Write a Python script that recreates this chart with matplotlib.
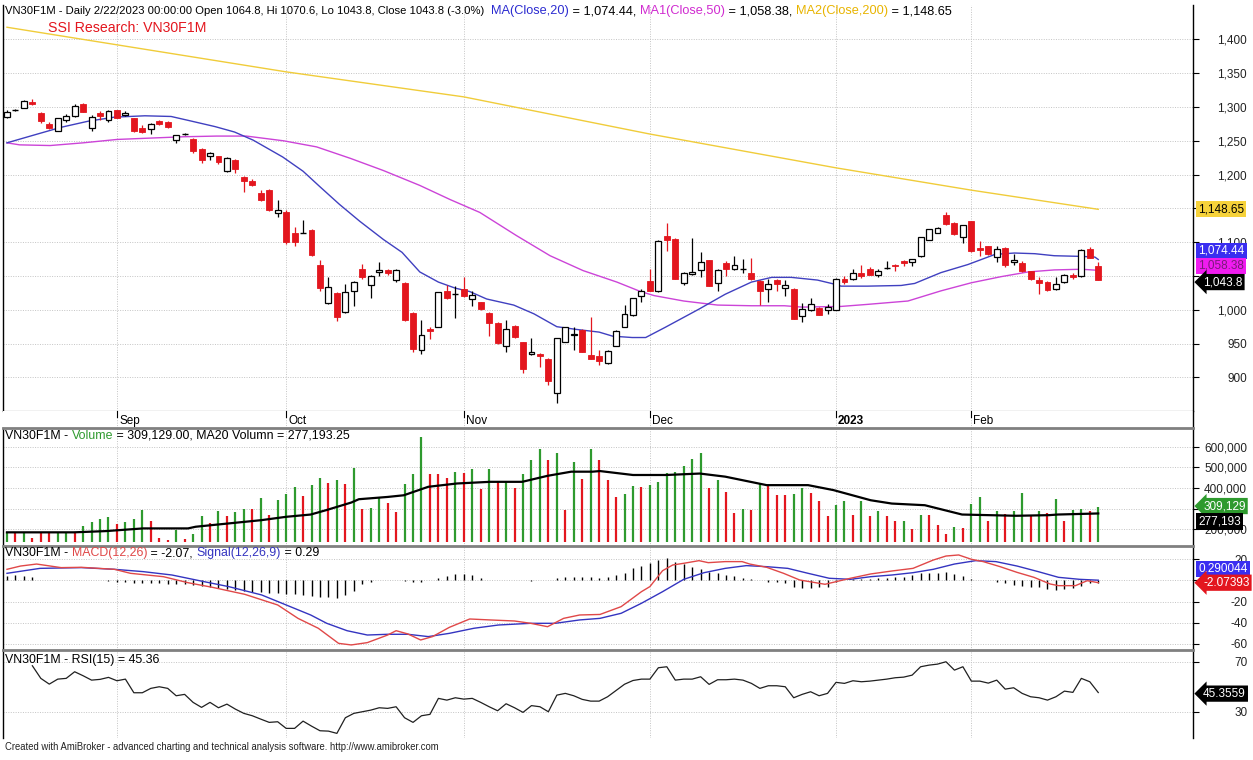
import matplotlib
matplotlib.use("Agg")
import matplotlib.pyplot as plt
from matplotlib.lines import Line2D

plt.rcParams['font.family'] = ['Liberation Sans', 'DejaVu Sans']

W, H = 1253, 760

# ---------------- data ----------------
opens = [1285, 1295, 1299, 1307, 1291, 1275, 1265, 1281, 1286, 1305,
         1269, 1291, 1281, 1295, 1288, 1283, 1269, 1268, 1280, 1278,
         1251, 1260, 1253, 1238, 1227, 1227, 1205, 1222, 1197, 1190,
         1173, 1177, 1143, 1145, 1114, 1114, 1118, 1066, 1010, 1025,
         997, 1028, 1061, 1037, 1056, 1059, 1044, 1040, 996, 941,
         972, 975, 1028, 1024, 1031, 1016, 1011, 996, 981, 947,
         976, 952, 935, 935, 927, 877, 953, 962, 970, 933,
         932, 921, 947, 975, 992, 1020, 1042, 1028, 1109, 1105,
         1040, 1053, 1059, 1073, 1040, 1069, 1061, 1060, 1054, 1043,
         1031, 1044, 1032, 1031, 991, 999, 1003, 1000, 1000, 1046,
         1045, 1055, 1060, 1051, 1062, 1067, 1072, 1071, 1079, 1104,
         1114, 1140, 1129, 1108, 1131, 1092, 1094, 1078, 1092, 1071,
         1069, 1057, 1044, 1041, 1031, 1041, 1051, 1050, 1090, 1064.8]
highs = [1295, 1297, 1310, 1312, 1292, 1278, 1284, 1289, 1304, 1306,
         1288, 1294, 1295, 1296, 1294, 1284, 1273, 1276, 1281, 1279,
         1259, 1262, 1254, 1239, 1234, 1228, 1226, 1223, 1198, 1193,
         1177, 1178, 1163, 1147, 1122, 1133, 1119, 1073, 1049, 1026,
         1038, 1042, 1068, 1051, 1070, 1060, 1060, 1041, 997, 985,
         975, 1027, 1037, 1035, 1048, 1028, 1012, 997, 982, 985,
         978, 953, 959, 936, 928, 959, 975, 975, 971, 990,
         940, 940, 970, 1007, 1018, 1031, 1060, 1103, 1128, 1106,
         1056, 1106, 1085, 1074, 1060, 1072, 1079, 1075, 1076, 1044,
         1045, 1046, 1044, 1032, 1010, 1018, 1004, 1008, 1047, 1050,
         1061, 1067, 1063, 1060, 1072, 1068, 1074, 1075, 1108, 1120,
         1122, 1145, 1130, 1126, 1132, 1102, 1095, 1094, 1093, 1083,
         1072, 1058, 1048, 1042, 1049, 1053, 1054, 1090, 1093, 1070.6]
lows = [1284, 1294, 1298, 1303, 1276, 1268, 1264, 1278, 1285, 1292,
        1264, 1281, 1278, 1283, 1286, 1263, 1262, 1260, 1274, 1269,
        1247, 1259, 1232, 1217, 1221, 1215, 1204, 1203, 1174, 1183,
        1161, 1146, 1137, 1098, 1095, 1114, 1080, 1028, 1008, 983,
        996, 1006, 1045, 1018, 1050, 1052, 1041, 984, 938, 935,
        957, 974, 1016, 988, 1019, 1005, 1000, 961, 950, 937,
        959, 907, 933, 915, 889, 862, 952, 941, 938, 927,
        918, 920, 946, 974, 991, 1012, 1028, 1027, 1087, 1045,
        1036, 1052, 1048, 1035, 1028, 1050, 1059, 1054, 1044, 1007,
        1011, 1028, 1021, 986, 982, 998, 992, 994, 999, 1038,
        1044, 1047, 1051, 1049, 1061, 1057, 1065, 1065, 1078, 1103,
        1113, 1125, 1111, 1099, 1085, 1080, 1081, 1070, 1064, 1067,
        1056, 1044, 1024, 1028, 1029, 1040, 1045, 1049, 1076, 1043.8]
closes = [1293, 1295, 1309, 1304, 1279, 1269, 1283, 1286, 1302, 1293,
          1285, 1286, 1294, 1284, 1291, 1264, 1263, 1275, 1275, 1270,
          1258, 1260, 1235, 1222, 1232, 1219, 1225, 1209, 1190, 1184,
          1163, 1147, 1148, 1101, 1101, 1114, 1081, 1032, 1033, 990,
          1026, 1041, 1049, 1050, 1059, 1054, 1059, 985, 942, 963,
          969, 1026, 1017, 1024, 1020, 1022, 1001, 981, 951, 971,
          960, 913, 938, 932, 895, 958, 974, 964, 938, 927,
          925, 939, 969, 994, 1017, 1028, 1028, 1102, 1104, 1046,
          1054, 1056, 1071, 1035, 1059, 1060, 1066, 1060, 1045, 1028,
          1038, 1038, 1036, 987, 1001, 1008, 993, 1004, 1046, 1041,
          1054, 1050, 1052, 1057, 1062, 1065, 1069, 1075, 1107, 1119,
          1121, 1127, 1112, 1126, 1087, 1088, 1082, 1090, 1066, 1073,
          1057, 1045, 1039, 1030, 1038, 1052, 1049, 1088, 1077, 1043.8]

ma20_idx = [0, 3.6, 6.4, 9.6, 12.7, 16.3, 19.4, 21.5, 24.6, 26.9, 29.1, 32.6, 35, 37,
            39.3, 41.7, 44.5, 46.7, 48.8, 51, 53, 54.7, 56.7, 59.9, 62.3, 65, 67.3,
            70, 71.6, 73.9, 75.5, 77.8, 81.8, 84.9, 88, 90.4, 92.7, 95.8, 97.8, 98.6,
            101.7, 105.7, 107.3, 110.4, 113.6, 116.8, 119.1, 121.5, 123.8, 127, 128.6, 129]
ma20_val = [1247, 1260, 1270, 1279, 1285, 1287, 1286, 1280, 1271, 1263, 1251, 1226, 1205, 1182,
            1156, 1131, 1104, 1085, 1056, 1041, 1032, 1027, 1016, 1007, 994, 975, 971,
            967, 961, 959, 959, 974, 1001, 1023, 1041, 1048, 1048, 1044, 1038, 1035,
            1035, 1036, 1039, 1055, 1067, 1082, 1084, 1083, 1080, 1079, 1078, 1074.44]
ma50_idx = [0, 1.5, 5.1, 9, 13, 16.9, 20.9, 24.8, 28.3, 32.7, 36.6, 40.6, 44.5, 48.8,
            52.4, 55.9, 60.2, 64.2, 68.1, 72.1, 74.9, 76.5, 80, 84, 88, 91.9, 94,
            98.6, 101.7, 106.5, 110.4, 114, 117.5, 120.7, 123.8, 127, 129]
ma50_val = [1247, 1244, 1243, 1247, 1252, 1254, 1256, 1257, 1257, 1250, 1241, 1224, 1206, 1184,
            1163, 1144, 1110, 1080, 1058, 1041, 1027, 1021, 1013, 1007, 1006, 1006, 1004,
            1005, 1008, 1013, 1028, 1040, 1049, 1056, 1059, 1060, 1058.38]
ma200_idx = [0, 13, 33, 54, 76, 98, 114, 129]
ma200_val = [1418, 1392, 1352, 1315, 1260, 1210, 1177, 1148.65]

volume = [186, 186, 186, 160, 181, 181, 189, 189, 189, 218,
          234, 250, 261, 226, 234, 250, 294, 240, 157, 149,
          197, 153, 176, 266, 229, 289, 266, 282, 301, 301,
          353, 272, 341, 369, 406, 362, 414, 447, 422, 437,
          418, 498, 301, 304, 357, 330, 282, 418, 466, 648,
          466, 466, 450, 476, 471, 492, 395, 492, 430, 434,
          401, 466, 535, 587, 535, 567, 294, 527, 443, 588,
          535, 438, 357, 373, 410, 406, 414, 430, 471, 476,
          506, 538, 567, 401, 438, 381, 280, 297, 296, 418,
          414, 366, 366, 373, 401, 378, 336, 264, 320, 336,
          269, 336, 266, 291, 264, 243, 243, 201, 272, 272,
          220, 180, 212, 207, 323, 357, 240, 288, 275, 291,
          376, 266, 291, 277, 349, 243, 293, 301, 288, 309.129]  # thousands
vol_color = (list("GRGRRRGGRG") + list("GGGRGGGRRR") + list("GRGGRGRGGR") +
             list("GRGGGRGGRG") + list("RGRGGRRGGG") + list("RRRGRGRGRG") +
             list("RGGGRGRGRG") + list("RRRGGRGGGG") + list("GGGRGRRGRG") +
             list("RRRGGRRRGG") + list("RGRGRRGRGR") + list("RRGRGGRGRG") +
             list("GRGRGRGGRG"))
vol_ma_idx = [0, 7.9, 11.7, 16.1, 21.4, 22.3, 26.2, 30.1, 33, 35.9, 37.8, 40.7, 41.6, 45,
              46.9, 49.8, 53.2, 57.1, 60.9, 63.9, 66.7, 69.2, 70.1, 74, 77.9, 81.9, 84.9,
              89.8, 94.7, 97.7, 102.1, 104.6, 108.5, 112.9, 119.3, 123.2, 124.2, 129]
vol_ma_val = [186, 186, 192, 205, 205, 213, 229, 245, 261, 272, 294, 330, 346, 357,
              365, 406, 422, 430, 430, 459, 479, 479, 482, 463, 463, 470, 455,
              414, 414, 390, 341, 325, 317, 272, 266, 269, 272, 277.193]

macd_idx = [0, 1.6, 3.5, 6.4, 8.8, 12.7, 14.6, 18.5, 21.4, 24.3, 28.1, 32, 34.4, 36.8,
            39.2, 40.7, 42.6, 45, 46, 47.4, 48.9, 50.3, 52.3, 54.7, 57.1, 60, 61.9,
            63.9, 65.8, 67.7, 70.1, 72.6, 75, 76, 77.5, 78.7, 80, 81.8, 82.9, 84.9,
            86.9, 87.8, 89.8, 91.8, 93.7, 96.7, 99.7, 102.1, 104.6, 107.1, 109.5, 111,
            112.5, 114, 115.4, 117.4, 119.4, 121.4, 123.3, 124.3, 126.3, 127.7, 129]
macd_val = [10.6, 13.7, 15.6, 12.2, 12.5, 10.6, 6.8, 3.6, -2.1, -6.5, -13.1, -23.2, -35.9, -45.3,
            -59.6, -61.1, -58.9, -51.7, -47.6, -50.7, -56.4, -53.2, -44.4, -36.5, -37.4, -38.4, -40.6,
            -43.8, -35.9, -32.7, -32.2, -24.8, -10.6, -5.8, 9.3, 14.7, 16.3, 18.8, 16.9, 17.9,
            17.9, 15.6, 12.5, 6.8, 0.5, -3.6, 2.1, 6.2, 9.0, 11.5, 19.4, 23.2,
            24.2, 20.1, 17.9, 13.1, 7.7, 3.0, -3.3, -4.9, -4.9, -0.2, -2.07]
sig_idx = [0, 3.9, 8.8, 12.7, 16.1, 19.5, 23.3, 26.2, 30.1, 33, 35.9, 37.8, 40.2, 42.6,
           45, 47.4, 49.8, 52.3, 55.2, 58.1, 61.9, 64.8, 67.7, 70.1, 72.6, 75, 77.5,
           80, 82.4, 84.9, 87.4, 89.8, 92.3, 94.7, 97.2, 99.7, 102.1, 104.6, 107.1,
           109.5, 112, 114.5, 116.9, 119.4, 121.9, 124.3, 126.8, 129]
sig_val = [6.8, 11.5, 12.2, 10.6, 8.4, 5.2, -1.1, -5.8, -13.7, -23.2, -32.7, -40.6, -47.6, -51.7,
           -51.0, -51.0, -53.2, -50.1, -45.3, -42.2, -40.6, -40.6, -37.4, -35.9, -31.1, -21.6, -10.6,
           1.1, 7.4, 11.5, 14.1, 13.1, 11.5, 6.8, 2.1, 1.1, 3.6, 5.2, 7.4,
           10.6, 15.6, 18.8, 17.9, 13.7, 8.4, 3.0, 1.1, 0.29]
macd_hist = [4, 5, 4.5, 3, 0.8, 0.3, 0.3, 0.3, 0.3, 0.3,
             0.3, 0.3, -0.3, -1, -1.5, -2, -2, -2.5, -2.5, -3,
             -3, -3.5, -4, -5, -6, -7, -8, -9, -10, -10.5,
             -11, -11.5, -12, -12.5, -13, -14, -15, -15.5, -16, -17,
             -14, -10, -3, -1.5, 0.3, 0.5, 0.3, -0.5, -1.5, -1.5,
             0.5, 2, 4, 6, 6.5, 5, 2.5, 0.5, 0.5, 0.5,
             0.5, 0.3, -0.5, 0.3, 0.3, 2, 3, 3, 3, 3.5,
             2.5, 3.6, 5.2, 7.4, 11.5, 13.7, 16.3, 19.4, 21, 17.9,
             15.6, 13.1, 10.6, 8.4, 6.8, 5.2, 4.3, 2, 1.1, 0.5,
             -1.1, -1.1, -2, -6.5, -7.4, -7.4, -6.5, -5.8, -1, 0.3,
             1, 1, 1, 2, 2, 3, 3.6, 5.2, 6.8, 6.8,
             7.4, 7.7, 6.2, 4.3, 1, 0.5, 0.2, -1, -2, -4.3,
             -5.2, -5.8, -6.5, -8.4, -9, -8.4, -7.4, -5.2, -2, -2.36]

rsi_start = 3
rsi = [66.8, 56.7, 52.1, 56.1, 56.7, 62, 58.8, 55.3, 55.9, 57.5,
       54.8, 56.1, 45.2, 45.2, 48.7, 50, 48.7, 42.8, 43.9, 37.5,
       33.5, 37.5, 33.2, 36.1, 32.1, 28.7, 26.8, 24.1, 21.5, 22,
       16.7, 16.7, 22.5, 18.5, 14.8, 14.5, 12.7, 25.2, 28.7, 30,
       31.3, 33.2, 32.7, 34, 25.2, 21.5, 26.8, 27.9, 40.7, 39.3,
       41.2, 40.1, 40.7, 37.5, 34, 30.8, 36.4, 33.2, 29.5, 34.9,
       34, 30, 43.3, 44.7, 42.8, 39.9, 38.5, 38.5, 42, 47,
       52, 55, 56.1, 56.1, 65.2, 66, 55.3, 56.1, 56.1, 58,
       51.9, 55.6, 55.6, 56.1, 55.3, 52.7, 48.7, 50.8, 50.8, 50,
       41.2, 43.9, 46, 42.8, 44.7, 53.5, 52.7, 54.8, 54, 54.5,
       55.3, 56.1, 57.2, 57.7, 59.3, 66, 67.3, 68.1, 70, 63.3,
       66, 54.5, 54.5, 52.9, 55.3, 48.1, 49.2, 44.7, 42, 41.2,
       39.3, 42, 46.5, 45.5, 56.7, 54, 45.36]

month_idx = [13, 33, 54, 76, 98, 114]
month_lbl = ['Sep', 'Oct', 'Nov', 'Dec', '2023', 'Feb']

price_ticks = [900, 950, 1000, 1050, 1100, 1150, 1200, 1250, 1300, 1350, 1400]
price_hidden = [1050, 1150]          # labels covered by value boxes in the reference
vol_ticks = [200, 300, 400, 500, 600]
vol_hidden = [300]
macd_ticks = [20, 0, -20, -40, -60]
macd_hidden = [0]
rsi_ticks = [70, 30]

# ---------------- styling ----------------
C_UP_VOL = '#2e9a2e'
C_RED = '#e3161e'
C_MA20 = '#4040c0'
C_MA50 = '#cc44d8'
C_MA200 = '#f0cc3a'
GRID = '#c4c4c4'
XL = (-0.47, 140.2)
LAB_FS = 8.5

fig = plt.figure(figsize=(W / 100, H / 100), dpi=100)
fig.patch.set_facecolor('white')


def px_axes(x0, y0, x1, y1):
    return fig.add_axes([x0 / W, 1 - y1 / H, (x1 - x0) / W, (y1 - y0) / H])


def style(ax, ylim, ticks, fmt, hidden=()):
    ax.set_xlim(*XL)
    ax.set_ylim(*ylim)
    for s in ('top', 'bottom'):
        ax.spines[s].set_visible(False)
    ax.spines['left'].set_linewidth(1.0)
    ax.spines['right'].set_linewidth(1.0)
    ax.set_xticks([])
    ax.yaxis.tick_right()
    ax.set_yticks(ticks)
    ax.set_yticklabels(['' if v in hidden else fmt(v) for v in ticks])
    ax.tick_params(axis='y', direction='out', length=4, width=0.8,
                   labelsize=LAB_FS, pad=35, labelcolor='#222222')
    for lab in ax.get_yticklabels():
        lab.set_horizontalalignment('right')
    for v in ticks:
        ax.axhline(v, color=GRID, lw=0.7, ls=(0, (1, 1.5)), zorder=0)
    for m in month_idx:
        ax.axvline(m, color=GRID, lw=0.7, ls=(0, (1, 1.5)), zorder=0)


def value_box(ax, y, s, fc, tc, arrow=False):
    x = 1.0044 if not arrow else 1.0085
    bs = 'larrow,pad=0.18' if arrow else 'square,pad=0.18'
    ax.text(x, y, s, transform=ax.get_yaxis_transform(), ha='left', va='center',
            fontsize=LAB_FS, color=tc, zorder=10, clip_on=False,
            bbox=dict(boxstyle=bs, fc=fc, ec='none'))


# ---------- price pane ----------
axp = px_axes(3, 5, 1193, 411)
style(axp, (850.3, 1450.9), price_ticks, lambda v: f"{v:,.0f}", price_hidden)
axp.spines['bottom'].set_visible(True)
axp.spines['bottom'].set_linewidth(0.8)

axp.plot(ma200_idx, ma200_val, color=C_MA200, lw=1.0, zorder=2)
axp.plot(ma50_idx, ma50_val, color=C_MA50, lw=1.0, zorder=2)
axp.plot(ma20_idx, ma20_val, color=C_MA20, lw=1.0, zorder=2)

BW = 0.7
for i, (o, h, l, c) in enumerate(zip(opens, highs, lows, closes)):
    if c > o:
        axp.vlines(i, l, h, color='black', lw=0.9, zorder=3)
        axp.bar(i, c - o, bottom=o, width=BW, facecolor='white', edgecolor='black',
                linewidth=0.9, zorder=4)
    elif c < o:
        axp.vlines(i, l, h, color=C_RED, lw=0.9, zorder=3)
        axp.bar(i, o - c, bottom=c, width=BW, facecolor=C_RED, edgecolor=C_RED,
                linewidth=0.6, zorder=4)
    else:
        axp.vlines(i, l, h, color='black', lw=0.9, zorder=3)
        axp.hlines(c, i - BW / 2, i + BW / 2, color='black', lw=1.0, zorder=4)

value_box(axp, 1148.65, '1,148.65', '#f6d23a', 'black')
value_box(axp, 1087, '1,074.44', '#3a2ef0', 'white')
value_box(axp, 1065, '1,058.38', '#f01cf0', '#7a1a7a')
value_box(axp, 1041, '1,043.8', 'black', 'white', arrow=True)

# ---------- date strip ----------
axd = px_axes(3, 411, 1193, 428)
axd.set_xlim(*XL)
axd.set_ylim(0, 1)
axd.set_xticks([])
axd.set_yticks([])
for s in ('top', 'bottom', 'left'):
    axd.spines[s].set_visible(False)
axd.spines['right'].set_linewidth(1.0)
for m, lbl in zip(month_idx, month_lbl):
    axd.axvline(m, color=GRID, lw=0.7, ls=(0, (1, 1.5)), zorder=0)
    axd.plot([m, m], [1, 0.62], color='black', lw=0.8)
    axd.text(m + 0.25, 0.4, lbl, fontsize=LAB_FS, va='center', ha='left',
             fontweight='bold' if lbl == '2023' else 'normal')

# ---------- volume pane ----------
axv = px_axes(3, 428, 1193, 546)
style(axv, (120, 690), vol_ticks, lambda v: f"{v * 1000:,.0f}", vol_hidden)
vol_floor = 140
for i, (v, cc) in enumerate(zip(volume, vol_color)):
    axv.vlines(i, vol_floor, v, color=C_UP_VOL if cc == 'G' else C_RED, lw=1.6, zorder=3)
axv.plot(vol_ma_idx, vol_ma_val, color='black', lw=1.6, zorder=4)
value_box(axv, 313, '309,129', '#2e9a2e', 'white', arrow=True)
value_box(axv, 238, '277,193', 'black', 'white')

# ---------- MACD pane ----------
axm = px_axes(3, 546, 1193, 650)
style(axm, (-65.9, 32.7), macd_ticks, lambda v: f"{v:.0f}", macd_hidden)
axm.vlines(range(len(macd_hist)), 0, macd_hist, color='black', lw=1.0, zorder=2)
axm.plot(sig_idx, sig_val, color='#3434c0', lw=1.0, zorder=3)
axm.plot(macd_idx, macd_val, color='#e04848', lw=1.0, zorder=4)
value_box(axm, 10.6, '0.290044', '#3a2ef0', 'white')
value_box(axm, -2.1, '-2.07393', '#e3161e', 'white', arrow=True)

# ---------- RSI pane ----------
axr = px_axes(3, 650, 1193, 738)
style(axr, (9, 79.4), rsi_ticks, lambda v: f"{v:.0f}")
axr.plot(range(rsi_start, rsi_start + len(rsi)), rsi, color='#202020', lw=0.9, zorder=3)
value_box(axr, 44.5, '45.3559', 'black', 'white', arrow=True)

# ---------- separators ----------
for y in (428, 546, 650):
    fig.add_artist(Line2D([3 / W, 1193 / W], [1 - y / H, 1 - y / H], color='#808080', lw=2.0))

# ---------- titles ----------
renderer = fig.canvas.get_renderer()


def text_width(s, size):
    t = fig.text(0, 0, s + 'x', fontsize=size)
    t2 = fig.text(0, 0, 'x', fontsize=size)
    w = t.get_window_extent(renderer).width - t2.get_window_extent(renderer).width
    t.remove()
    t2.remove()
    return w


def rich(x_px, y_px, parts, size):
    prefix = ''
    for s, c in parts:
        off = text_width(prefix, size) if prefix else 0
        fig.text((x_px + off) / W, 1 - y_px / H, s, color=c, fontsize=size,
                 ha='left', va='center')
        prefix += s


rich(5, 11, [("VN30F1M - Daily 2/22/2023 00:00:00 Open 1064.8, Hi 1070.6, Lo 1043.8, "
              "Close 1043.8 (-3.0%)", 'black')], 8.1)
rich(491, 11, [("MA(Close,20)", '#2b2bd0'), (" = 1,074.44, ", 'black'),
               ("MA1(Close,50)", '#d02bd0'), (" = 1,058.38, ", 'black'),
               ("MA2(Close,200)", '#e8b400'), (" = 1,148.65", 'black')], 9.2)
fig.text(48 / W, 1 - 28 / H, "SSI Research: VN30F1M", color='#e3161e', fontsize=10.2,
         ha='left', va='center')
TFS = 8.9
rich(5, 436, [("VN30F1M - ", 'black'), ("Volume", '#2e9a2e'),
              (" = 309,129.00, MA20 Volumn = 277,193.25", 'black')], TFS)
rich(5, 553, [("VN30F1M - ", 'black'), ("MACD(12,26)", '#e04848'), (" = -2.07, ", 'black'),
              ("Signal(12,26,9)", '#3434c0'), (" = 0.29", 'black')], TFS)
rich(5, 660, [("VN30F1M - RSI(15) = 45.36", 'black')], TFS)
fig.text(5 / W, 1 - 747 / H,
         "Created with AmiBroker - advanced charting and technical analysis software. "
         "http://www.amibroker.com", fontsize=6.85, color='#222222', ha='left', va='center')

fig.savefig('out.png', dpi=100, facecolor='white')
